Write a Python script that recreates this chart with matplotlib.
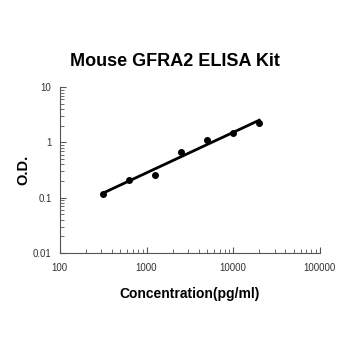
import numpy as np
import matplotlib
matplotlib.use("Agg")
import matplotlib.pyplot as plt
from matplotlib.ticker import FixedLocator, LogLocator, NullFormatter

plt.rcParams['font.family'] = ['Liberation Sans', 'DejaVu Sans']

# Standard curve data
conc = [312.5, 625, 1250, 2500, 5000, 10000, 20000]
od = [0.119, 0.206, 0.258, 0.68, 1.10, 1.47, 2.25]
x_ticks = [100, 1000, 10000, 100000]
x_labels = ["100", "1000", "10000", "100000"]
y_ticks = [0.01, 0.1, 1, 10]
y_labels = ["0.01", "0.1", "1", "10"]

# Power fit (linear in log-log space)
b, a = np.polyfit(np.log10(conc), np.log10(od), 1)
fit_x = np.array([conc[0], conc[-1]])
fit_y = 10 ** (a + b * np.log10(fit_x))

fig = plt.figure(figsize=(3.5, 3.5), dpi=100)
ax = fig.add_axes([0.171, 0.277, 0.743, 0.474])

ax.plot(fit_x, fit_y, color="black", lw=2)
ax.scatter(conc, od, color="black", s=16, zorder=3)

ax.set_xscale("log")
ax.set_yscale("log")
ax.set_xlim(100, 100000)
ax.set_ylim(0.01, 10)

ax.xaxis.set_major_locator(FixedLocator(x_ticks))
ax.set_xticklabels(x_labels)
ax.yaxis.set_major_locator(FixedLocator(y_ticks))
ax.set_yticklabels(y_labels)
ax.xaxis.set_minor_locator(LogLocator(base=10, subs=range(2, 10)))
ax.yaxis.set_minor_locator(LogLocator(base=10, subs=range(2, 10)))
ax.xaxis.set_minor_formatter(NullFormatter())
ax.yaxis.set_minor_formatter(NullFormatter())

ax.tick_params(which="both", direction="in", colors="#555555", labelcolor="#333333", labelsize=7)
ax.tick_params(which="major", length=4, width=0.8)
ax.tick_params(which="minor", length=3, width=0.6)
ax.tick_params(axis="x", pad=7)
ax.tick_params(axis="y", pad=6)

for side in ["top", "right"]:
    ax.spines[side].set_visible(False)
for side in ["left", "bottom"]:
    ax.spines[side].set_color("#555555")
    ax.spines[side].set_linewidth(0.8)

fig.text(0.5, 1 - 62 / 350, "Mouse GFRA2 ELISA Kit", fontsize=13, fontweight="bold",
         ha="center", va="center")
ax.set_xlabel("Concentration(pg/ml)", fontsize=10, fontweight="bold", labelpad=10)
ax.set_ylabel("O.D.", fontsize=10.5, fontweight="bold", labelpad=2)

fig.savefig("out.png", dpi=100)
